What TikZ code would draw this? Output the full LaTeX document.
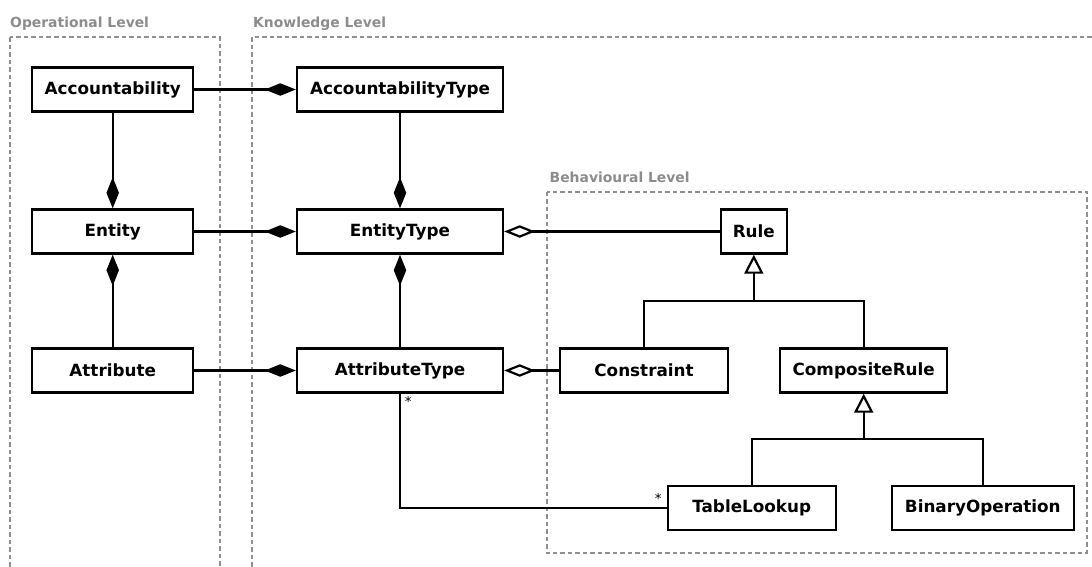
\documentclass[tikz,border=0pt]{standalone}
\usepackage{fontspec}
\setmainfont{DejaVu Sans}
\usetikzlibrary{arrows.meta}
\definecolor{framegray}{HTML}{909090}
\definecolor{labelgray}{HTML}{8C8C8C}
\begin{document}
\begin{tikzpicture}[x=1pt,y=-1pt,
  classbox/.style={draw, line width=2.4pt, fill=white, inner sep=0pt,
    minimum height=44pt, font=\fontsize{16.8}{20}\selectfont\bfseries},
  link/.style={line width=2.2pt, line join=miter},
  composition/.style={link, -{Diamond[length=31pt,width=12.5pt]}},
  aggregation/.style={link, -{Diamond[open,length=31pt,width=12.5pt]}},
  inherit/.style={link, -{Triangle[open,length=19pt,width=19pt]}},
  levelframe/.style={draw=framegray, line width=2pt, dash pattern=on 4.5pt off 3pt},
  levellabel/.style={anchor=base west, inner sep=0pt, text=labelgray,
    font=\fontsize{13.9}{16}\selectfont\bfseries},
  mult/.style={anchor=north, inner sep=0pt, font=\fontsize{13.5}{15}\selectfont}
]
\useasboundingbox (0,0) rectangle (1092,566);
\clip (0,0) rectangle (1092,566);

% level frames
\draw[levelframe] (10,37) rectangle (220,620);
\draw[levelframe] (252,37) rectangle (1150,620);
\draw[levelframe] (546.5,191.5) rectangle (1087,552.7);
\node[levellabel] (oplabel) at (10,27) {Operational Level};
\node[levellabel] (knlabel) at (253,27) {Knowledge Level};
\node[levellabel] (bhlabel) at (549.5,182) {Behavioural Level};

% classes
\node[classbox, minimum width=161pt] (acc)  at (112.7,89.5)  {Accountability};
\node[classbox, minimum width=161pt] (ent)  at (112.7,231.5) {Entity};
\node[classbox, minimum width=161pt] (att)  at (112.7,370.5) {Attribute};
\node[classbox, minimum width=206pt] (acct) at (400,89.5)    {AccountabilityType};
\node[classbox, minimum width=206pt] (entt) at (400,231.5)   {EntityType};
\node[classbox, minimum width=206pt] (attt) at (400,370.5)   {AttributeType};
\node[classbox, minimum width=66pt]  (rule) at (753.8,231.5) {Rule};
\node[classbox, minimum width=168pt] (cons) at (644,370.5)   {Constraint};
\node[classbox, minimum width=167pt] (comprule) at (863.7,370.5) {CompositeRule};
\node[classbox, minimum width=168pt] (tab)  at (751.7,508)   {TableLookup};
\node[classbox, minimum width=182pt] (bin)  at (982.8,508)   {BinaryOperation};

% compositions
\draw[composition] (acc.east) -- (acct.west);
\draw[composition] (ent.east) -- (entt.west);
\draw[composition] (att.east) -- (attt.west);
\draw[composition] (acc.south) -- (ent.north);
\draw[composition] (att.north) -- (ent.south);
\draw[composition] (acct.south) -- (entt.north);
\draw[composition] (attt.north) -- (entt.south);

% aggregations
\draw[aggregation] (rule.west) -- (entt.east);
\draw[aggregation] (cons.west) -- (attt.east);

% generalisations
\coordinate (barA) at (753.8,300.7);
\coordinate (barB) at (863.7,439.3);
\draw[link] (cons.north) |- (barA) -| (comprule.north);
\draw[inherit] (barA) -- (rule.south);
\draw[link] (tab.north) |- (barB) -| (bin.north);
\draw[inherit] (barB) -- (comprule.south);

% association
\draw[link] (attt.south) |- (tab.west);
\node[mult] (m1) at (408.3,396.5) {*};
\node[mult] (m2) at (658.3,493) {*};
\end{tikzpicture}
\end{document}
